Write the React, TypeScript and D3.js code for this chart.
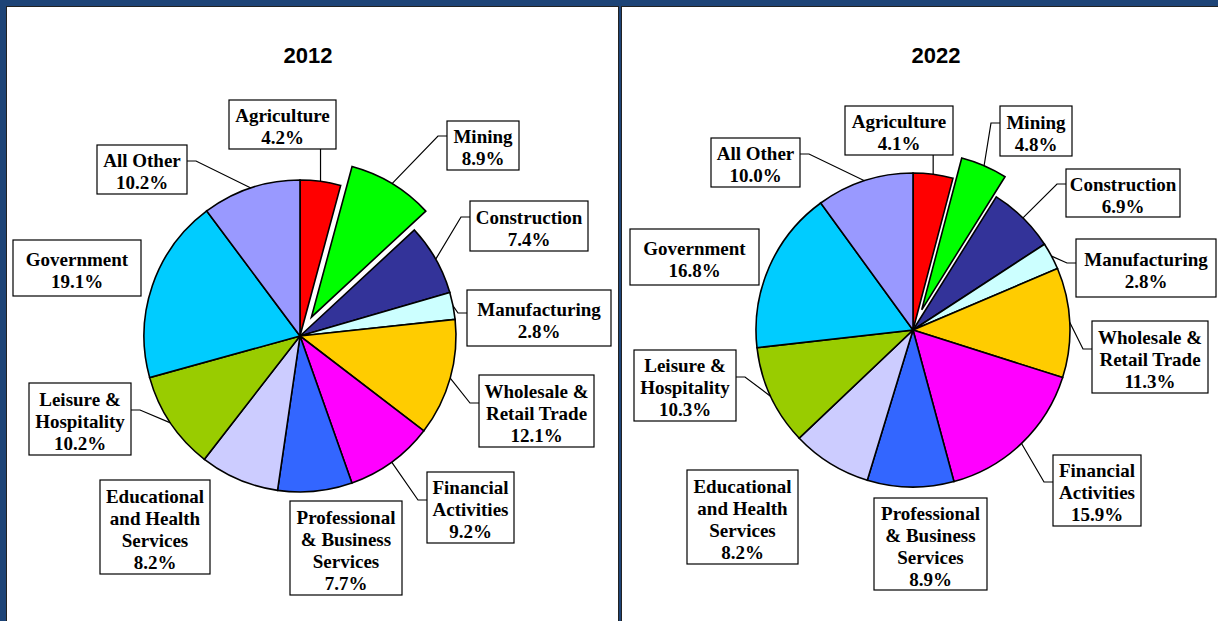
import React from "react";
import * as d3 from "d3";

const categories = [
  "Agriculture", "Mining", "Construction", "Manufacturing", "Wholesale & Retail Trade",
  "Financial Activities", "Professional & Business Services", "Educational and Health Services",
  "Leisure & Hospitality", "Government", "All Other",
];
const labelLines = [
  ["Agriculture"], ["Mining"], ["Construction"], ["Manufacturing"], ["Wholesale &", "Retail Trade"],
  ["Financial", "Activities"], ["Professional", "& Business", "Services"], ["Educational", "and Health", "Services"],
  ["Leisure &", "Hospitality"], ["Government"], ["All Other"],
];
const values2012 = [4.2, 8.9, 7.4, 2.8, 12.1, 9.2, 7.7, 8.2, 10.2, 19.1, 10.2];
const values2022 = [4.1, 4.8, 6.9, 2.8, 11.3, 15.9, 8.9, 8.2, 10.3, 16.8, 10.0];
const colors = ["#FF0000", "#00FF00", "#333399", "#CCFFFF", "#FFCC00", "#FF00FF", "#3366FF", "#CCCCFF", "#99CC00", "#00CCFF", "#9999FF"];
const years = ["2012", "2022"];
const explodedIndex = 1;

// layout: label boxes [x, y, w, h, leaderSide, leaderY]
type Box = [number, number, number, number, string, number];
const layout2012: Box[] = [
  [229, 100, 107, 49, "bottom", 0],
  [447, 121, 72, 49, "left", 136],
  [470, 201, 118, 50, "left", 217],
  [467, 290, 144, 56, "left", 313],
  [479, 375, 115, 72, "left", 403],
  [427, 472, 87, 71, "left", 500],
  [290, 501, 112, 94, "none", 0],
  [100, 480, 110, 94, "none", 0],
  [29, 383, 102, 72, "right", 410],
  [13, 240, 128, 56, "none", 0],
  [97, 145, 90, 49, "right", 161],
];
const layout2022: Box[] = [
  [845, 106, 108, 49, "bottom", 0],
  [1000, 106, 72, 50, "left", 123],
  [1066, 169, 114, 48, "left", 184],
  [1076, 239, 140, 58, "left", 263],
  [1092, 321, 116, 72, "left", 349],
  [1053, 455, 88, 71, "left", 482],
  [874, 498, 113, 92, "none", 0],
  [687, 470, 111, 94, "none", 0],
  [634, 350, 102, 71, "right", 377],
  [630, 229, 129, 56, "none", 0],
  [711, 138, 89, 49, "right", 154],
];

const charts = [
  { year: years[0], values: values2012, layout: layout2012, cx: 300, cy: 336, r: 156, titleX: 308 },
  { year: years[1], values: values2022, layout: layout2022, cx: 913, cy: 330, r: 157, titleX: 936 },
];

function PieChart({ chart }: { chart: typeof charts[0] }) {
  const pie = d3.pie<number>().sort(null).value((d) => d).startAngle(0).endAngle(2 * Math.PI);
  const arcs = pie(chart.values);
  const arc = d3.arc<d3.PieArcDatum<number>>().innerRadius(0).outerRadius(chart.r);
  const explode = 22;
  const fmt = d3.format(".1f");
  return (
    <g>
      <text x={chart.titleX} y={63} textAnchor="middle" fontFamily="Liberation Sans, Arial, sans-serif" fontWeight="bold" fontSize={22} fill="#000">
        {chart.year}
      </text>
      {arcs.map((a, i) => {
        const mid = (a.startAngle + a.endAngle) / 2;
        const off = i === explodedIndex ? explode : 0;
        const dx = off * Math.sin(mid);
        const dy = -off * Math.cos(mid);
        return (
          <path
            key={i}
            d={arc(a) || ""}
            transform={`translate(${chart.cx + dx},${chart.cy + dy})`}
            fill={colors[i]}
            stroke="#000"
            strokeWidth={1.6}
            strokeLinejoin="miter"
          />
        );
      })}
      {arcs.map((a, i) => {
        const [bx, by, bw, bh, side, ly] = chart.layout[i];
        const mid = (a.startAngle + a.endAngle) / 2;
        const off = i === explodedIndex ? explode : 0;
        const tr = chart.r + off;
        const tx = chart.cx + tr * Math.sin(mid);
        const ty = chart.cy - tr * Math.cos(mid);
        let leader = "";
        if (side === "bottom") leader = `M${tx},${by + bh}L${tx},${ty}`;
        else if (side === "left") leader = `M${bx},${ly}L${bx - 9},${ly}L${tx},${ty}`;
        else if (side === "right") leader = `M${bx + bw},${ly}L${bx + bw + 9},${ly}L${tx},${ty}`;
        const lines = [...labelLines[i], fmt(chart.values[i]) + "%"];
        const lh = 22;
        const startY = by + bh / 2 - ((lines.length - 1) * lh) / 2 + 2;
        return (
          <g key={"l" + i}>
            {leader && <path d={leader} fill="none" stroke="#000" strokeWidth={1.2} />}
            <rect x={bx} y={by} width={bw} height={bh} fill="#fff" stroke="#000" strokeWidth={1.2} />
            {lines.map((t, j) => (
              <text
                key={j}
                x={bx + bw / 2}
                y={startY + j * lh}
                dy="0.35em"
                textAnchor="middle"
                fontFamily="Liberation Serif, Times New Roman, serif"
                fontWeight="bold"
                fontSize={19}
                fill="#000"
              >
                {t}
              </text>
            ))}
          </g>
        );
      })}
    </g>
  );
}

export default function App() {
  return (
    <svg width={1218} height={621} style={{ position: "absolute", left: 0, top: 0, display: "block" }}>
      <rect x={0} y={0} width={1218} height={621} fill="#1d4477" />
      <rect x={6} y={6} width={613} height={615} fill="#222" />
      <rect x={7} y={7} width={611} height={614} fill="#fff" />
      <rect x={621} y={6} width={597} height={615} fill="#222" />
      <rect x={622} y={7} width={596} height={614} fill="#fff" />
      {charts.map((c) => (
        <PieChart key={c.year} chart={c} />
      ))}
    </svg>
  );
}
